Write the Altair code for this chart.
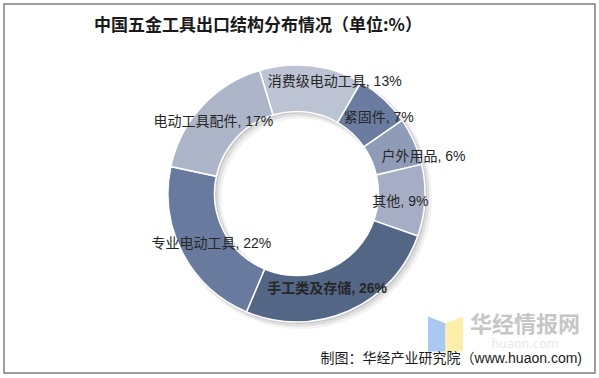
import math
import altair as alt
import pandas as pd

# ---------------- data ----------------
categories = ["消费级电动工具", "紧固件", "户外用品", "其他", "手工类及存储", "专业电动工具", "电动工具配件"]
values = [13, 7, 6, 9, 26, 22, 17]
colors = ["#bcc3d3", "#6a7ca0", "#8e9cb8", "#a5aec5", "#546686", "#687b9f", "#adb5c9"]

title_text = "中国五金工具出口结构分布情况（单位:%）"
source_text = "制图：华经产业研究院（www.huaon.com)"
watermark_cn = "华经情报网"
watermark_en = "huaon.com"

# label nudges (dx, dy) away from the ring centre line, like the original layout
nudges = {
    "消费级电动工具": (26, -7),
    "紧固件": (11, 2),
    "户外用品": (31, 6),
    "其他": (-1, 3),
    "手工类及存储": (-12, 0),
    "专业电动工具": (8, 2),
    "电动工具配件": (-6, 0),
}

df = pd.DataFrame({"category": categories, "value": values, "order": list(range(len(categories)))})
one = pd.DataFrame({"k": [0]})

FONT = "Liberation Sans, Noto Sans CJK SC"
W, H = 593, 369
CX, CY = W / 2, H / 2
INNER, OUTER = 82, 128.5

start = math.radians(-16.7)
theta_scale = alt.Scale(domain=[0, 100], range=[start, start + 2 * math.pi])

base = (
    alt.Chart(df)
    .transform_window(cum="sum(value)", sort=[alt.SortField("order")], frame=[None, 0])
    .transform_calculate(
        start="datum.cum - datum.value",
        mid="datum.cum - datum.value / 2",
        label="datum.category + ', ' + datum.value + '%'",
    )
)

# soft drop shadow of the ring
shadows = []
for off, op, grow in [(1.5, 0.10, 0.5), (3.0, 0.08, 1.5), (4.5, 0.05, 2.5)]:
    shadows.append(
        alt.Chart(one)
        .mark_arc(theta=0, theta2=2 * math.pi, innerRadius=INNER - grow, outerRadius=OUTER + grow,
                  fill="#000000", opacity=op)
        .encode(x=alt.value(CX + off), y=alt.value(CY + off))
    )

arcs = base.mark_arc(innerRadius=INNER, outerRadius=OUTER, stroke="white", strokeWidth=1.5).encode(
    theta=alt.Theta("start:Q", scale=theta_scale),
    theta2="cum:Q",
    color=alt.Color("category:N", scale=alt.Scale(domain=categories, range=colors), legend=None),
    tooltip=["category:N", "value:Q"],
)

labels = []
for cat in categories:
    dx, dy = nudges[cat]
    labels.append(
        base.transform_filter(alt.datum.category == cat)
        .mark_text(radius=(INNER + OUTER) / 2 - 0.25, dx=dx, dy=dy, fontSize=14, font=FONT,
                   color="#262626", fontWeight="bold" if cat == "手工类及存储" else "normal")
        .encode(theta=alt.Theta("mid:Q", scale=theta_scale), text="label:N")
    )

title = alt.Chart(one).mark_text(
    text=title_text, fontSize=17, fontWeight="bold", font="Noto Sans CJK SC", color="#1a1a1a",
    align="center", baseline="middle"
).encode(x=alt.value(258), y=alt.value(17))

# watermark logo + text
logo_blue = alt.Chart(one).mark_point(
    shape="M -1 -1 L 0 -0.62 L 0 1 L -1 1 Z", filled=True, size=1225, color="#a9c9f3", opacity=1, strokeWidth=0
).encode(x=alt.value(445.5), y=alt.value(325))
logo_yellow = alt.Chart(one).mark_point(
    shape="M 0 -0.62 L 1 -1 L 1 1 L 0 1 Z", filled=True, size=1225, color="#fcefa9", opacity=1, strokeWidth=0
).encode(x=alt.value(445.5), y=alt.value(325))
wm_cn = alt.Chart(one).mark_text(
    text=watermark_cn, fontSize=22, fontWeight="bold", font="Noto Sans CJK SC", color="#c6c6c6",
    align="center", baseline="middle"
).encode(x=alt.value(525), y=alt.value(316))
wm_en = alt.Chart(one).mark_text(
    text=watermark_en, fontSize=12, font="DejaVu Sans", color="#e8e8e8", align="center", baseline="middle"
).encode(x=alt.value(525), y=alt.value(335))

source = alt.Chart(one).mark_text(
    text=source_text, fontSize=14, font=FONT, color="#1a1a1a", align="right", baseline="middle"
).encode(x=alt.value(582), y=alt.value(350))

frame = alt.Chart(one).mark_rect(fillOpacity=0, stroke="#7f7f7f", strokeWidth=1.5).encode(
    x=alt.value(4), x2=alt.value(595), y=alt.value(-5), y2=alt.value(364)
)

chart = alt.layer(
    *shadows, arcs, *labels, title, logo_blue, logo_yellow, wm_cn, wm_en, source, frame
).properties(
    width=W, height=H, autosize="none",
    padding={"left": 0, "top": 9, "right": 6, "bottom": 0},
    background="white",
).configure_view(stroke=None)

chart.save("out.html", embed_options={"renderer": "svg", "actions": False})
